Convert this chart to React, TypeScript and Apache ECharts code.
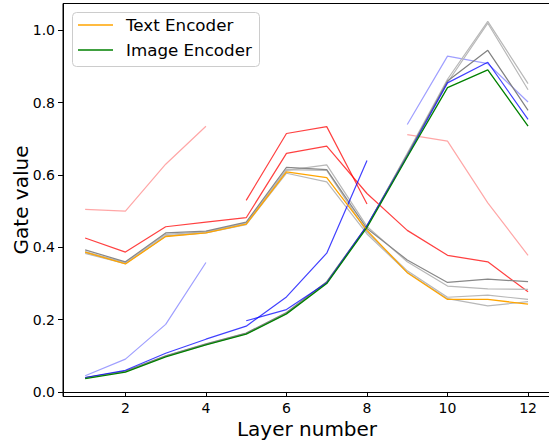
import React, { useEffect, useRef } from "react";
import * as echarts from "echarts";

const layers = [1, 2, 3, 4, 5, 6, 7, 8, 9, 10, 11, 12];
const xTicks = [2, 4, 6, 8, 10, 12];
const yTicks = [0, 0.2, 0.4, 0.6, 0.8, 1.0];

const textEncoder = [0.387, 0.354, 0.430, 0.440, 0.464, 0.609, 0.593, 0.447, 0.330, 0.256, 0.256, 0.243];
const imageEncoder = [0.037, 0.055, 0.097, 0.130, 0.160, 0.216, 0.300, 0.455, 0.650, 0.842, 0.891, 0.735];

const textGrayDark = [0.393, 0.360, 0.440, 0.445, 0.470, 0.621, 0.615, 0.452, 0.365, 0.303, 0.312, 0.305];
const textGrayLight1 = [0.388, 0.358, 0.436, 0.443, 0.468, 0.613, 0.628, 0.458, 0.360, 0.293, 0.285, 0.284];
const textGrayLight2 = [0.383, 0.355, 0.432, 0.441, 0.466, 0.615, 0.613, 0.442, 0.335, 0.262, 0.268, 0.256];
const textGrayLight3 = [0.385, 0.356, 0.431, 0.440, 0.463, 0.605, 0.581, 0.437, 0.331, 0.258, 0.238, 0.250];

const imageGrayDark = [0.040, 0.058, 0.100, 0.133, 0.163, 0.220, 0.305, 0.460, 0.656, 0.860, 0.945, 0.779];
const imageGrayLight1 = [0.039, 0.057, 0.099, 0.132, 0.162, 0.218, 0.303, 0.458, 0.660, 0.865, 1.025, 0.853];
const imageGrayLight2 = [0.038, 0.056, 0.098, 0.131, 0.161, 0.217, 0.302, 0.457, 0.658, 0.856, 1.020, 0.836];

const redFull = [0.426, 0.387, 0.457, 0.470, 0.482, 0.660, 0.680, 0.549, 0.447, 0.378, 0.360, 0.277]; // layers 1-12
const redMid = [0.530, 0.715, 0.734, 0.520]; // layers 5-8
const blueEarly = [0.040, 0.060, 0.107, 0.146, 0.182, 0.263, 0.384, 0.640]; // layers 1-8
const blueLate = [0.197, 0.228, 0.302, 0.460, 0.652, 0.855, 0.912, 0.754]; // layers 5-12
const lightRedEarly = [0.505, 0.500, 0.630, 0.735]; // layers 1-4
const lightRedLate = [0.712, 0.694, 0.523, 0.378]; // layers 9-12
const lightBlueEarly = [0.045, 0.091, 0.187, 0.358]; // layers 1-4
const lightBlueLate = [0.740, 0.929, 0.908, 0.802]; // layers 9-12

const pts = (startLayer: number, vals: number[]) =>
  vals.map((v, i) => [layers[startLayer - 1 + i], v]);

const FONT = "DejaVu Sans";

export default function App() {
  const ref = useRef<HTMLDivElement>(null);
  useEffect(() => {
    if (!ref.current) return;
    const chart = echarts.init(ref.current, null, { renderer: "svg" });
    const line = (name: string, data: number[][], color: string, width = 1.2) => ({
      name,
      type: "line",
      data,
      showSymbol: false,
      symbol: "none",
      silent: true,
      lineStyle: { color, width },
      itemStyle: { color },
      emphasis: { disabled: true },
    });
    const series = [
      line("lr1", pts(1, lightRedEarly), "rgba(255,0,0,0.35)"),
      line("lr2", pts(9, lightRedLate), "rgba(255,0,0,0.35)"),
      line("lb1", pts(1, lightBlueEarly), "rgba(0,0,255,0.38)"),
      line("lb2", pts(9, lightBlueLate), "rgba(0,0,255,0.38)"),
      line("r1", pts(1, redFull), "rgba(255,0,0,0.75)"),
      line("r2", pts(5, redMid), "rgba(255,0,0,0.75)"),
      line("tgl1", pts(1, textGrayLight1), "#b8b8b8"),
      line("tgl2", pts(1, textGrayLight2), "#b8b8b8"),
      line("tgl3", pts(1, textGrayLight3), "#b8b8b8"),
      line("tgd", pts(1, textGrayDark), "#888888"),
      line("igl1", pts(1, imageGrayLight1), "#b8b8b8"),
      line("igl2", pts(1, imageGrayLight2), "#b8b8b8"),
      line("igd", pts(1, imageGrayDark), "#808080"),
      line("b1", pts(1, blueEarly), "rgba(0,0,255,0.75)"),
      line("b2", pts(5, blueLate), "rgba(0,0,255,0.75)"),
      line("Text Encoder", pts(1, textEncoder), "#ffa500", 1.3),
      line("Image Encoder", pts(1, imageEncoder), "#008000", 1.3),
    ];
    chart.setOption({
      animation: false,
      grid: {
        left: 63,
        top: 3.5,
        width: 488,
        height: 393,
        outerBoundsMode: "none",
        containLabel: false,
        show: true,
        borderColor: "#000",
        borderWidth: 1,
        backgroundColor: "transparent",
      },
      xAxis: {
        type: "value",
        min: 0.45,
        max: 12.57,
        name: "Layer number",
        nameLocation: "middle",
        nameGap: 19,
        nameTextStyle: { fontFamily: FONT, fontSize: 20, color: "#000" },
        axisLine: { show: true, lineStyle: { color: "#000", width: 1 } },
        axisTick: { show: true, length: 5, lineStyle: { color: "#000" }, customValues: xTicks },
        axisLabel: { fontFamily: FONT, fontSize: 14, color: "#000", margin: 4, customValues: xTicks },
        splitLine: { show: false },
      },
      yAxis: {
        type: "value",
        min: -0.0125,
        max: 1.0745,
        name: "Gate value",
        nameLocation: "middle",
        nameGap: 32,
        nameRotate: 90,
        nameMoveOverlap: false,
        nameTextStyle: { fontFamily: FONT, fontSize: 20, color: "#000" },
        axisLine: { show: true, lineStyle: { color: "#000", width: 1 } },
        axisTick: { show: true, length: 5, lineStyle: { color: "#000" }, customValues: yTicks },
        axisLabel: {
          fontFamily: FONT,
          fontSize: 14,
          color: "#000",
          margin: 8,
          customValues: yTicks,
          formatter: (v: number) => v.toFixed(1),
        },
        splitLine: { show: false },
      },
      series,
      graphic: [
        {
          type: "rect",
          shape: { x: 72.5, y: 12.5, width: 187, height: 54, r: 4 },
          style: { fill: "rgba(255,255,255,0.85)", stroke: "#cccccc", lineWidth: 1 },
          z: 100,
        },
        {
          type: "line",
          shape: { x1: 78, y1: 25, x2: 113, y2: 25 },
          style: { stroke: "#ffa500", lineWidth: 1.5 },
          z: 101,
        },
        {
          type: "line",
          shape: { x1: 78, y1: 50, x2: 113, y2: 50 },
          style: { stroke: "#008000", lineWidth: 1.5 },
          z: 101,
        },
        {
          type: "text",
          x: 126,
          y: 25,
          style: {
            text: "Text Encoder",
            fontFamily: FONT,
            fontSize: 16.7,
            fill: "#000",
            verticalAlign: "middle",
          },
          z: 101,
        },
        {
          type: "text",
          x: 126,
          y: 50,
          style: {
            text: "Image Encoder",
            fontFamily: FONT,
            fontSize: 16.7,
            fill: "#000",
            verticalAlign: "middle",
          },
          z: 101,
        },
      ],
    });
    return () => chart.dispose();
  }, []);
  return (
    <div
      ref={ref}
      style={{ position: "fixed", left: 0, top: 0, width: 549, height: 441, background: "#fff" }}
    />
  );
}
